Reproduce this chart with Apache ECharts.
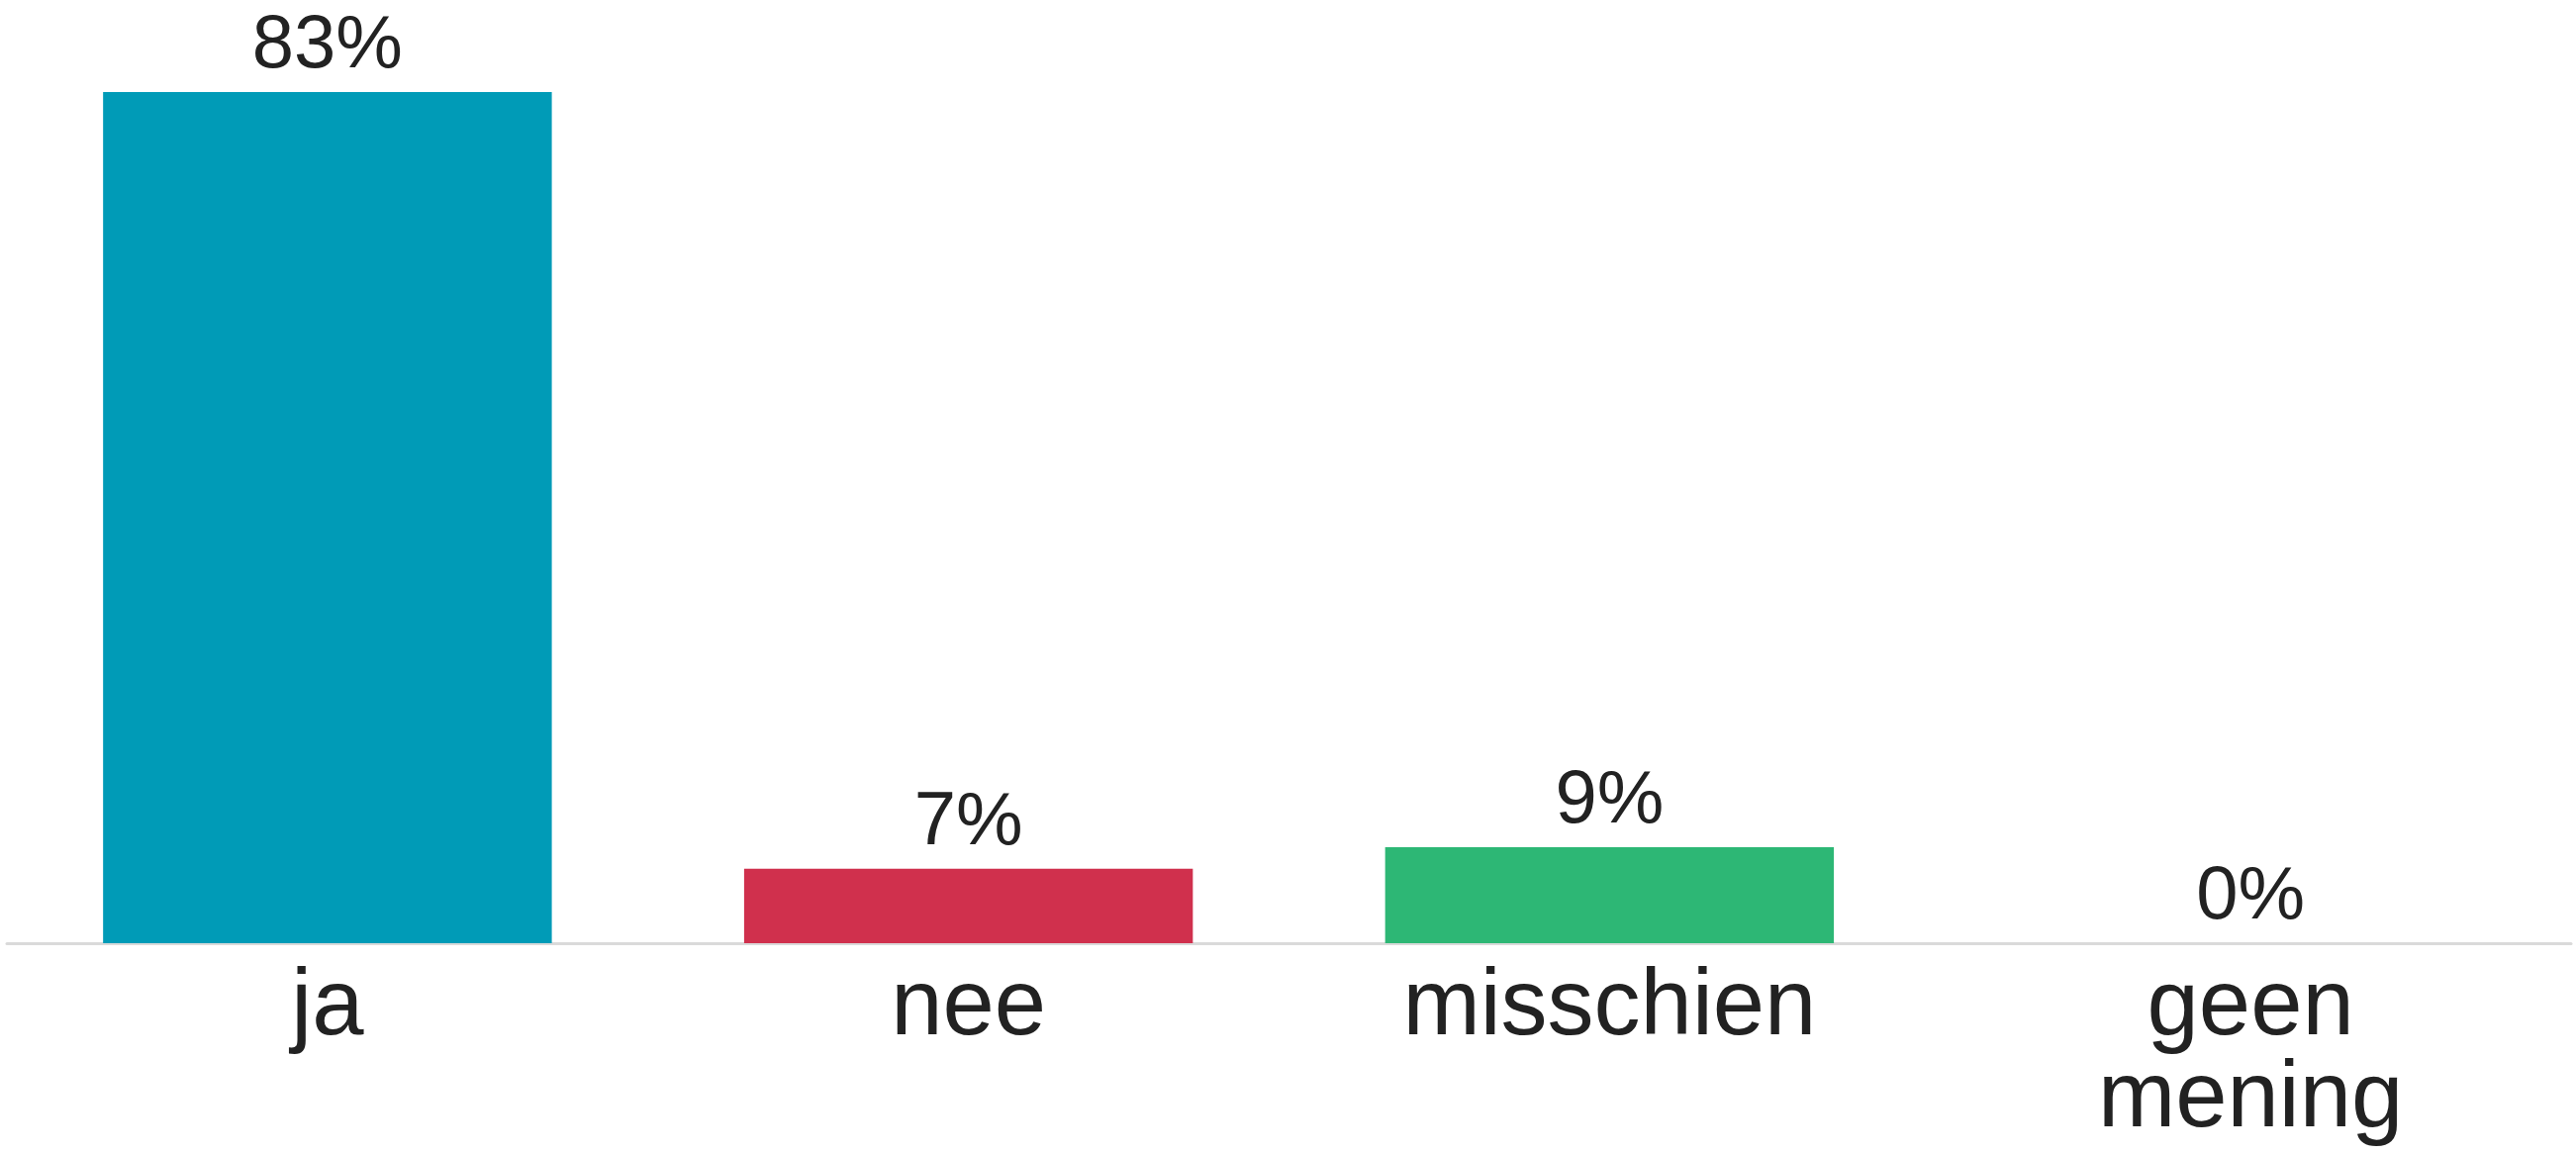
<!DOCTYPE html>
<html>
<head>
<meta charset="utf-8">
<script src="https://cdn.jsdelivr.net/npm/echarts@6/dist/echarts.min.js"></script>
<style>
  html, body { margin: 0; padding: 0; background: #fff; }
  #main { width: 2603px; height: 1167px; }
</style>
</head>
<body>
<div id="main"></div>
<script>
// 数据
var categories = ['ja', 'nee', 'misschien', 'geen\nmening'];
var values = [83.3, 7.3, 9.4, 0];
var colors = ['#009bb7', '#d0304d', '#2db775', '#999999'];

var myChart = echarts.init(document.getElementById('main'));

var option = {
  animation: false,
  grid: {
    left: 7,
    right: 5,
    top: 93,
    bottom: 214
  },
  xAxis: {
    type: 'category',
    data: categories,
    axisLine: {
      show: true,
      lineStyle: { color: '#dadada', width: 3 }
    },
    axisTick: { show: false },
    axisLabel: {
      fontFamily: 'Liberation Sans',
      fontSize: 94,
      lineHeight: 93,
      color: '#222',
      margin: 20,
      interval: 0
    }
  },
  yAxis: {
    type: 'value',
    min: 0,
    max: 83.3,
    show: false,
    splitLine: { show: false }
  },
  series: [
    {
      type: 'bar',
      barWidth: '70%',
      data: values.map(function (v, i) {
        return { value: v, itemStyle: { color: colors[i] } };
      }),
      label: {
        show: true,
        position: 'top',
        distance: 8,
        fontFamily: 'Liberation Sans',
        fontSize: 76,
        color: '#222',
        formatter: function (p) {
          return Math.round(p.value) + '%';
        }
      }
    }
  ]
};

myChart.setOption(option);
</script>
</body>
</html>
